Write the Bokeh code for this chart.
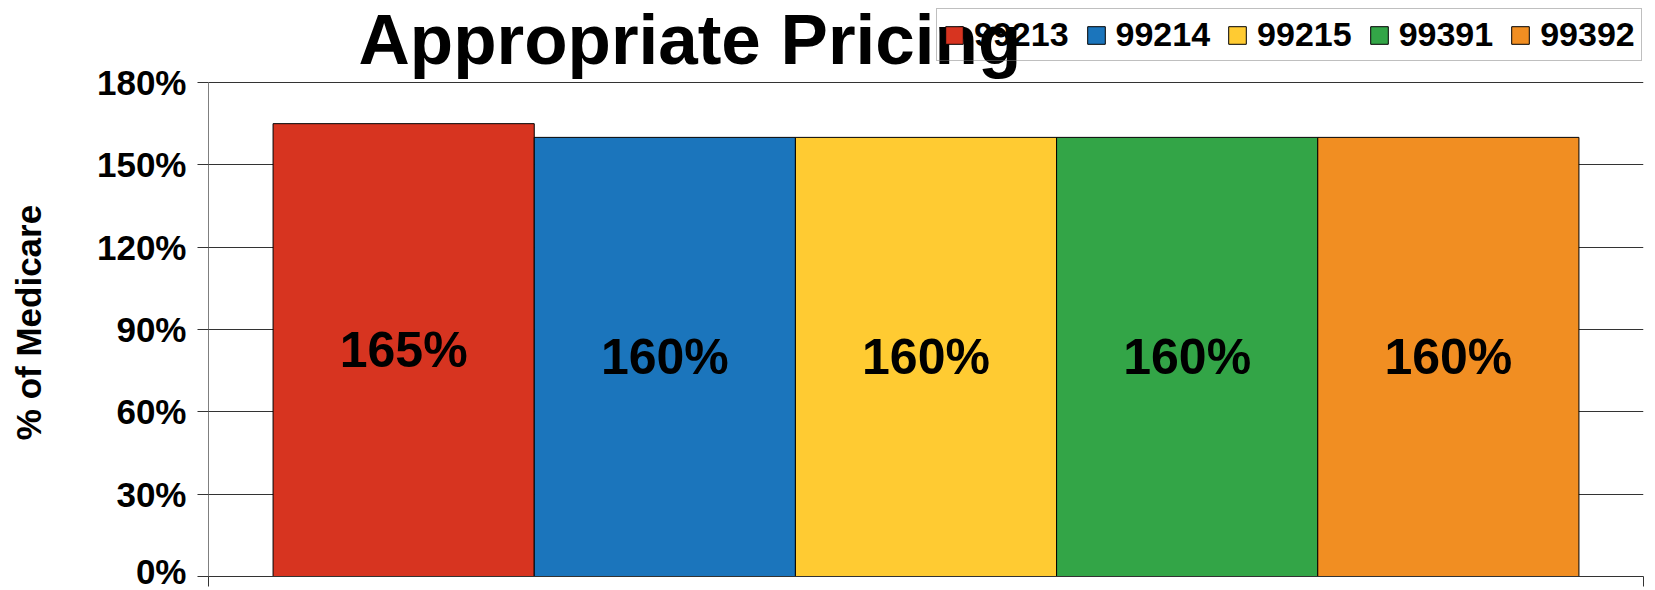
import numpy as np
from bokeh.plotting import figure
from bokeh.models import (Range1d, FixedTicker, PrintfTickFormatter, Legend,
                          LegendItem, Label, ColumnDataSource, CustomJSTickFormatter)
from bokeh.embed import file_html
from bokeh.resources import INLINE
from bokeh.core.properties import value

# ---- data ----
title_text = "Appropriate Pricing"
y_label = "% of Medicare"
codes = ["99213", "99214", "99215", "99391", "99392"]
values = [165, 160, 160, 160, 160]
colors = ["#D73420", "#1B75BC", "#FFCB32", "#33A547", "#F18E22"]
y_ticks = [0, 30, 60, 90, 120, 150, 180]

FONT = "Liberation Sans"
n = len(codes)
group_fill = 0.91
pad = n * (1 / group_fill - 1) / 2

FRAME_W, FRAME_H = 1435, 576
TOP_SPACE = 82          # px between frame top and the 180% line
y_max = max(y_ticks)
y_end = y_max * FRAME_H / (FRAME_H - TOP_SPACE)

p = figure(frame_width=FRAME_W, frame_height=FRAME_H, output_backend="svg",
           toolbar_location=None,
           x_range=Range1d(-pad, n + pad), y_range=Range1d(0, y_end),
           min_border_left=208, min_border_right=12, min_border_top=0,
           min_border_bottom=14)
p.outline_line_color = None
p.background_fill_color = "white"
p.border_fill_color = "white"

xs = np.arange(n) + 0.5
src = ColumnDataSource(dict(x=xs, top=values, color=colors, code=codes,
                            mid=np.array(values) / 2,
                            lbl=[f"{v}%" for v in values]))

bars = p.vbar(x="x", top="top", width=1.0, bottom=0, source=src,
              fill_color="color", line_color="black", line_width=1)

p.text(x="x", y="mid", text="lbl", source=src, text_font=value(FONT),
       text_font_style="bold", text_font_size="50px", text_align="center",
       text_baseline="middle", text_color="black")

# y axis line only over the tick span
p.segment(x0=[-pad], y0=[0], x1=[-pad], y1=[y_max], line_color="black", line_width=1)

# axes
p.xaxis.ticker = FixedTicker(ticks=[-pad, n + pad])
p.xaxis.formatter = CustomJSTickFormatter(code="return ''")
p.xaxis.major_label_text_font_size = "1px"
p.xaxis.major_label_standoff = 0
p.xaxis.major_tick_out = 10
p.xaxis.major_tick_in = 0
p.xaxis.minor_tick_line_color = None
p.xaxis.axis_line_color = "#333333"
p.xaxis.major_tick_line_color = "#333333"

p.yaxis.ticker = FixedTicker(ticks=y_ticks)
p.yaxis.formatter = PrintfTickFormatter(format="%d%%")
p.yaxis.major_label_text_font = FONT
p.yaxis.major_label_text_font_style = "bold"
p.yaxis.major_label_text_font_size = "35px"
p.yaxis.major_label_text_color = "black"
p.yaxis.major_label_standoff = 11
p.yaxis.major_tick_out = 11
p.yaxis.major_tick_in = 0
p.yaxis.minor_tick_line_color = None
p.yaxis.axis_line_color = None
p.yaxis.major_tick_line_color = "#333333"
p.yaxis.axis_label = y_label + "\u00a0" * 7
p.yaxis.axis_label_text_font = FONT
p.yaxis.axis_label_text_font_style = "bold"
p.yaxis.axis_label_text_font_size = "35px"
p.yaxis.axis_label_text_color = "black"
p.yaxis.axis_label_standoff = 46

p.xgrid.grid_line_color = None
p.ygrid.ticker = FixedTicker(ticks=y_ticks)
p.ygrid.grid_line_color = "#333333"
p.ygrid.grid_line_width = 1

# title (placed in the upper band of the frame)
x_span = (n + 2 * pad)
title_x = -pad + 150 / FRAME_W * x_span
title_y = y_end * (FRAME_H - 39) / FRAME_H
p.add_layout(Label(x=title_x, y=title_y, x_units="data", y_units="data",
                   text=title_text, text_font=FONT, text_font_style="bold",
                   text_font_size="71px", text_baseline="alphabetic",
                   text_align="left", text_color="black"))

# legend (location = left / bottom of the box, measured from frame's lower-left)
items = [LegendItem(label=c, renderers=[bars], index=i) for i, c in enumerate(codes)]
legend = Legend(items=items, orientation="horizontal", location=(728, 515),
                glyph_width=22, glyph_height=22, label_standoff=9, spacing=16,
                padding=6, margin=0, label_text_font=FONT,
                label_text_font_style="bold", label_text_font_size="34px",
                label_text_color="black",
                border_line_color="#7f7f7f", border_line_width=1.5,
                background_fill_alpha=0)
p.add_layout(legend)

open("out.html", "w").write(file_html(p, INLINE))
